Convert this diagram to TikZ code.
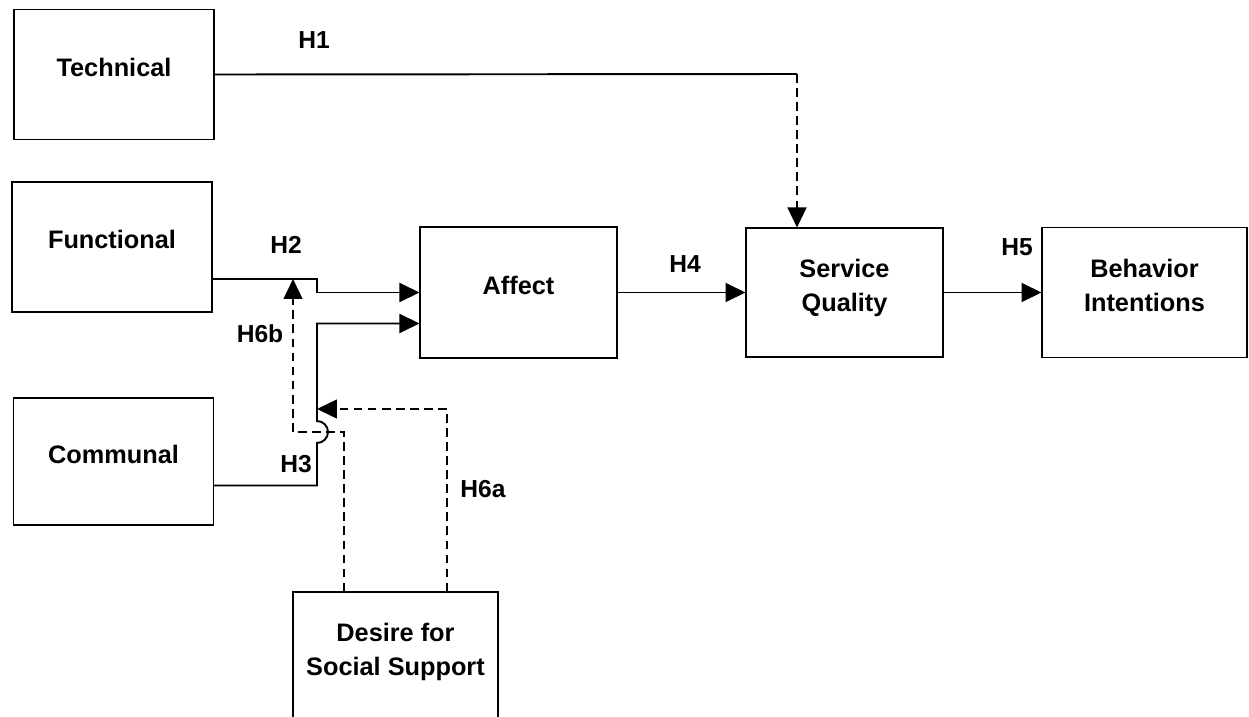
\documentclass[tikz,border=0pt]{standalone}
\usepackage{fontspec}
\setmainfont{Liberation Sans}
\usetikzlibrary{arrows.meta}

\begin{document}
\begin{tikzpicture}[x=0.02cm, y=-0.02cm, >={Triangle[length=0.4cm, width=0.38cm]},
    box/.style={draw, line width=0.6pt, minimum width=4cm, minimum height=2.6cm, align=center,
        text depth=0.3cm, font=\bfseries\fontsize{14.4}{19.5}\selectfont},
    link/.style={line width=1.1pt},
    dlink/.style={line width=0.8pt, dash pattern=on 5pt off 3pt},
    hyp/.style={font=\bfseries\fontsize{14}{18}\selectfont}]
    \useasboundingbox (0,0) rectangle (1249,717);
    % constructs
    \node[box] (tech) at (114,74.5) {Technical};
    \node[box] (func) at (112,247) {Functional};
    \node[box, minimum height=2.54cm] (comm) at (113.5,461.5) {Communal};
    \node[box, minimum width=3.94cm, minimum height=2.62cm] (affect) at (518.5,292.5) {Affect};
    \node[box, minimum width=3.94cm, minimum height=2.58cm] (sq) at (844.5,292.5) {Service\\Quality};
    \node[box, minimum width=4.1cm] (bi) at (1144.5,292.5) {Behavior\\Intentions};
    \node[box, minimum width=4.1cm] (desire) at (395.5,657) {Desire for\\Social Support};
    % bends and crossing
    \coordinate (h1) at (797,74);
    \coordinate (j3) at (317,432);
    \coordinate (h6b) at (293,279);
    \coordinate (h6a) at (317,409);
    % hypotheses
    \draw[link] (tech.east) -- (h1);
    \draw[dlink,->] (h1) -- (h1 |- sq.north);
    \draw[link,->] ([yshift=-0.64cm]func.east) -| (j3 |- affect.west) -- (affect.west);
    \draw[link,->] ([yshift=-0.48cm]comm.east) -| ([yshift=-0.22cm]j3)
        arc[start angle=-90, end angle=90, radius=0.22cm] |- ([yshift=-0.62cm]affect.west);
    \draw[dlink,->] ([xshift=-1.03cm]desire.north) |- (h6b |- j3) -- (h6b);
    \draw[dlink,->] ([xshift=1.03cm]desire.north) |- (h6a);
    \draw[link,->] (affect.east) -- (sq.west);
    \draw[link,->] (sq.east) -- (bi.west);
    % labels
    \node[hyp] (lh1) at (314,40) {H1};
    \node[hyp] (lh2) at (286,245) {H2};
    \node[hyp] (lh6b) at (260,334) {H6b};
    \node[hyp] (lh3) at (296,464) {H3};
    \node[hyp] (lh6a) at (483,489) {H6a};
    \node[hyp] (lh4) at (685,264) {H4};
    \node[hyp] (lh5) at (1017,247) {H5};
\end{tikzpicture}
\end{document}
